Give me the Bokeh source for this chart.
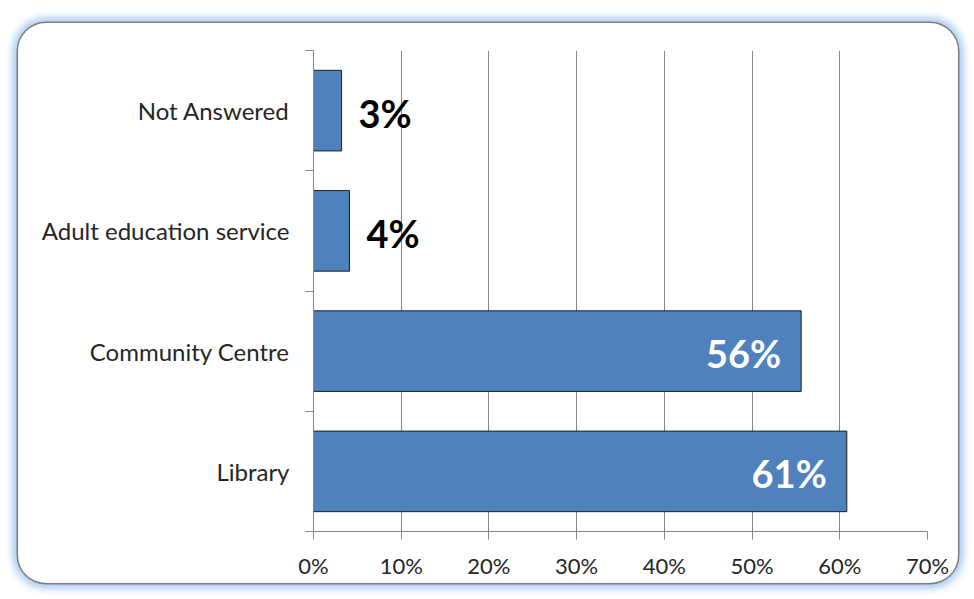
from bokeh.plotting import figure
from bokeh.models import ColumnDataSource, FixedTicker, NumeralTickFormatter, Range1d
from bokeh.core.properties import value
from bokeh.embed import file_html
from bokeh.resources import INLINE

categories = ["Library", "Community Centre", "Adult education service", "Not Answered"]
shares = [0.608, 0.556, 0.041, 0.032]
labels = ["61%", "56%", "4%", "3%"]
x_ticks = [0.0, 0.1, 0.2, 0.3, 0.4, 0.5, 0.6, 0.7]

centers = [i + 0.5 for i in range(len(categories))]
bounds = list(range(len(categories) + 1))

p = figure(width=940, height=560, output_backend="svg", toolbar_location=None,
           x_range=Range1d(0, 0.7), y_range=Range1d(0, len(categories)),
           min_border_left=295, min_border_right=31, min_border_top=27, min_border_bottom=52)
p.margin = (23, 0, 0, 18)
p.styles = {"border-radius": "28px", "overflow": "hidden", "background-color": "white",
            "box-shadow": "0 0 0 1.5px #7f7f7f, 0 0 7px 6px #b0cff3"}
p.border_fill_color = None
p.background_fill_color = None
p.outline_line_color = None

src = ColumnDataSource(dict(y=centers, right=shares, label=labels))
p.hbar(y="y", left=0, right="right", height=0.67, source=src,
       fill_color="#4f81bd", line_color="#1f1f1f", line_width=1)

inside = [i for i, v in enumerate(shares) if v > 0.3]
outside = [i for i, v in enumerate(shares) if v <= 0.3]
src_in = ColumnDataSource(dict(x=[shares[i] for i in inside], y=[centers[i] for i in inside],
                               t=[labels[i] for i in inside]))
src_out = ColumnDataSource(dict(x=[shares[i] for i in outside], y=[centers[i] for i in outside],
                                t=[labels[i] for i in outside]))
p.text(x="x", y="y", text="t", source=src_in, x_offset=-20, y_offset=2,
       text_align="right", text_baseline="middle", text_color="white",
       text_font=value("Lato"), text_font_style="bold", text_font_size="38px")
p.text(x="x", y="y", text="t", source=src_out, x_offset=17, y_offset=2,
       text_align="left", text_baseline="middle", text_color="black",
       text_font=value("Lato"), text_font_style="bold", text_font_size="38px")

# x axis
p.xaxis.ticker = FixedTicker(ticks=x_ticks)
p.xaxis.formatter = NumeralTickFormatter(format="0%")
p.xaxis.axis_line_color = "#868686"
p.xaxis.major_tick_line_color = "#868686"
p.xaxis.major_tick_out = 8
p.xaxis.major_tick_in = 0
p.xaxis.minor_tick_line_color = None
p.xaxis.major_label_text_font = "Lato"
p.xaxis.major_label_text_font_size = "22px"
p.xaxis.major_label_text_color = "#262626"
p.xaxis.major_label_standoff = 12

# y axis: labels at centers, ticks at boundaries
p.yaxis.ticker = FixedTicker(ticks=centers, minor_ticks=bounds)
p.yaxis.major_label_overrides = {c: n for c, n in zip(centers, categories)}
p.yaxis.axis_line_color = "#868686"
p.yaxis.major_tick_line_color = None
p.yaxis.major_tick_out = 0
p.yaxis.major_tick_in = 0
p.yaxis.minor_tick_line_color = "#868686"
p.yaxis.minor_tick_out = 8
p.yaxis.minor_tick_in = 0
p.yaxis.major_label_text_font = "Lato"
p.yaxis.major_label_text_font_size = "24px"
p.yaxis.major_label_text_color = "#262626"
p.yaxis.major_label_standoff = 16

p.xgrid.grid_line_color = "#868686"
p.xgrid.grid_line_width = 1
p.ygrid.grid_line_color = None

open("out.html", "w").write(file_html(p, INLINE))
